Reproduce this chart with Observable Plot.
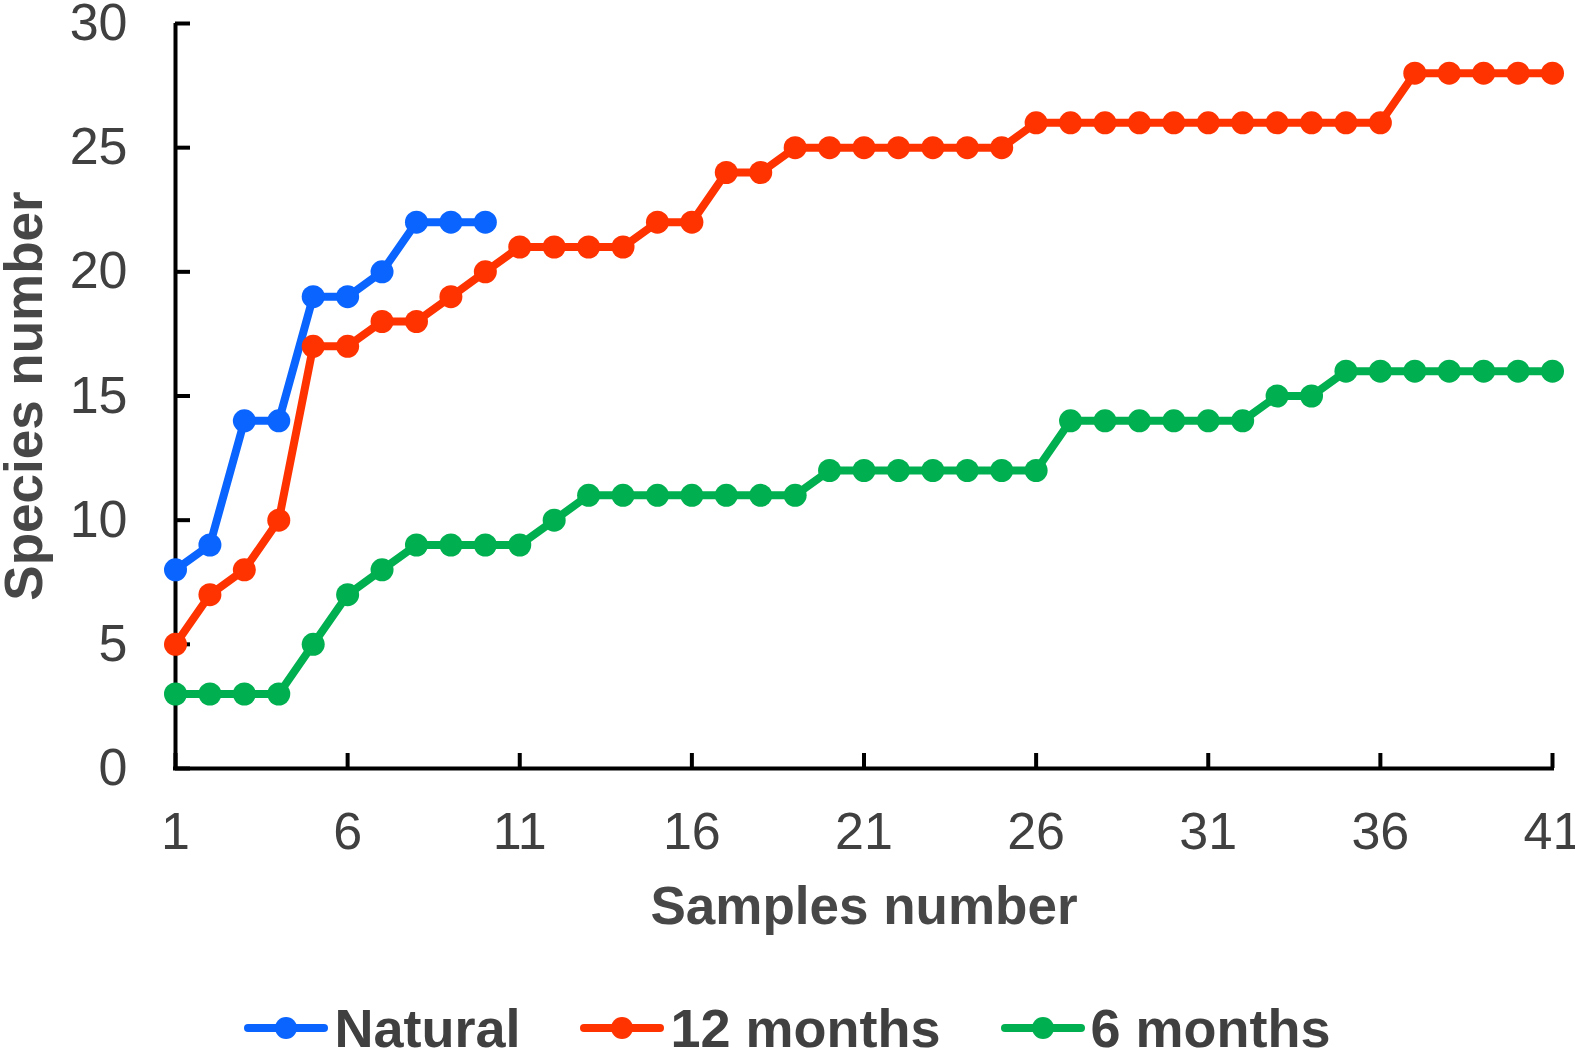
<!DOCTYPE html>
<html>
<head>
<meta charset="utf-8">
<script src="https://cdn.jsdelivr.net/npm/d3@7"></script>
<script src="https://cdn.jsdelivr.net/npm/@observablehq/plot@0.6"></script>
<style>
  html, body { margin: 0; padding: 0; background: #fff; overflow: hidden; }
  #wrap { position: relative; width: 1575px; height: 1049px; }
  #legend {
    position: absolute; left: 0; top: 1001px; width: 1575px; height: 54px;
    display: flex; justify-content: center; align-items: center; gap: 60px;
    font-family: "Liberation Sans", Arial, sans-serif; font-weight: bold;
    font-size: 54px; line-height: 54px; color: #404040;
  }
  .item { display: flex; align-items: center; gap: 6px; white-space: nowrap; }
  .item svg { display: block; }
</style>
</head>
<body>
<div id="wrap">
  <div id="chart"></div>
  <div id="legend"></div>
</div>
<script>
const samples = [1,2,3,4,5,6,7,8,9,10,11,12,13,14,15,16,17,18,19,20,21,22,23,24,25,26,27,28,29,30,31,32,33,34,35,36,37,38,39,40,41];
const natural = [8,9,14,14,19,19,20,22,22,22];
const months12 = [5,7,8,10,17,17,18,18,19,20,21,21,21,21,22,22,24,24,25,25,25,25,25,25,25,26,26,26,26,26,26,26,26,26,26,26,28,28,28,28,28];
const months6 = [3,3,3,3,5,7,8,9,9,9,9,10,11,11,11,11,11,11,11,12,12,12,12,12,12,12,14,14,14,14,14,14,15,15,16,16,16,16,16,16,16];
const seriesNames = ["Natural", "12 months", "6 months"];
const seriesColors = ["#0A64FF", "#FF3300", "#00B050"];
const xTicks = [1,6,11,16,21,26,31,36,41];
const yTicks = [0,5,10,15,20,25,30];

const seriesValues = [natural, months12, months6];
const seriesData = seriesValues.map((vals, i) =>
  vals.map((v, j) => ({sample: samples[j], species: v, series: seriesNames[i]})));

const W = 1575, H = 985;
const mL = 175, mR = 23, mT = 23, mB = 217;
const plotW = W - mL - mR, plotH = H - mT - mB;

const marks = [
  Plot.axisY(yTicks, {tickSize: 0, tickPadding: 48, fontSize: 52, color: "#404040", label: null}),
  Plot.axisX(xTicks, {tickSize: 0, tickPadding: 44, fontSize: 52, color: "#404040", label: null}),
  Plot.tickY(yTicks, {y: d => d, insetRight: plotW - 15, stroke: "black", strokeWidth: 4}),
  Plot.tickX(xTicks, {x: d => d, insetTop: plotH - 15, stroke: "black", strokeWidth: 4}),
  Plot.ruleX([1], {stroke: "black", strokeWidth: 4}),
  Plot.ruleY([0], {stroke: "black", strokeWidth: 4, strokeLinecap: "square"}),
  Plot.text(["Samples number"], {frameAnchor: "bottom", dy: 139, lineAnchor: "middle", textAnchor: "middle",
    fontSize: 53, fontWeight: "bold", fill: "#474747"}),
  Plot.text(["Species number"], {frameAnchor: "left", dx: -150, rotate: -90, lineAnchor: "middle", textAnchor: "middle",
    fontSize: 53, fontWeight: "bold", fill: "#474747"})
];
seriesData.forEach((d, i) => {
  marks.push(Plot.line(d, {x: "sample", y: "species", stroke: seriesColors[i], strokeWidth: 8, strokeLinejoin: "round"}));
  marks.push(Plot.dot(d, {x: "sample", y: "species", fill: seriesColors[i], r: 11.5}));
});

const chart = Plot.plot({
  width: W, height: H,
  marginLeft: mL, marginRight: mR, marginTop: mT, marginBottom: mB,
  style: {fontFamily: "'Liberation Sans', Arial, sans-serif", background: "#fff", overflow: "visible"},
  x: {domain: [1, 41]},
  y: {domain: [0, 30]},
  marks
});
document.getElementById("chart").appendChild(chart);

const legend = document.getElementById("legend");
seriesNames.forEach((name, i) => {
  const item = document.createElement("div");
  item.className = "item";
  item.innerHTML = `<svg width="84" height="26"><line x1="4" y1="13" x2="80" y2="13" stroke="${seriesColors[i]}" stroke-width="8" stroke-linecap="round"/><circle cx="42" cy="13" r="11" fill="${seriesColors[i]}"/></svg><span>${name}</span>`;
  legend.appendChild(item);
});
</script>
</body>
</html>
